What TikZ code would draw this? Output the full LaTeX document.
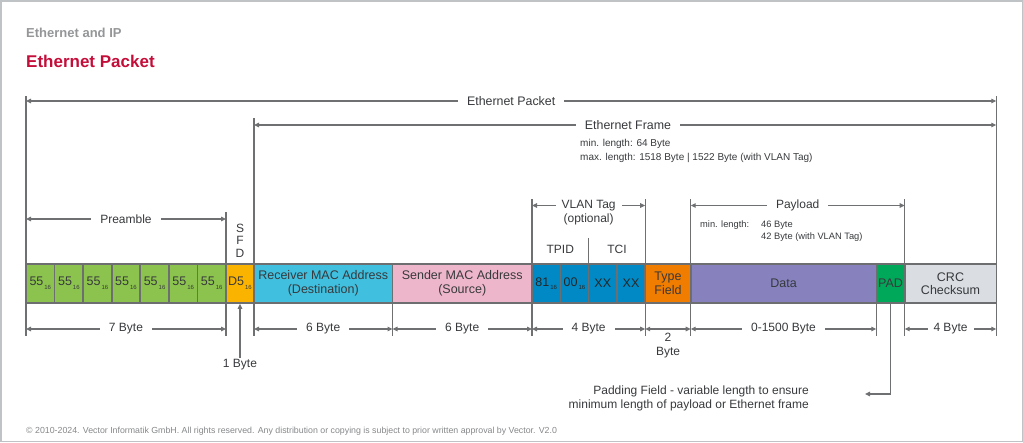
\documentclass[tikz,border=0pt]{standalone}
\usepackage{fontspec}
\setmainfont{Liberation Sans}
\usetikzlibrary{arrows.meta}
\definecolor{framec}{RGB}{192,195,197}
\definecolor{cellline}{RGB}{108,110,112}
\definecolor{mline}{RGB}{110,112,114}
\definecolor{txt}{RGB}{55,57,60}
\definecolor{titlegrey}{RGB}{148,150,152}
\definecolor{titlered}{RGB}{196,14,58}
\definecolor{cgreen}{RGB}{140,195,78}
\definecolor{csfd}{RGB}{250,180,0}
\definecolor{crecv}{RGB}{64,191,222}
\definecolor{csend}{RGB}{238,182,202}
\definecolor{cvlan}{RGB}{0,137,196}
\definecolor{ctype}{RGB}{240,124,0}
\definecolor{cdata}{RGB}{135,130,190}
\definecolor{cpad}{RGB}{0,168,90}
\definecolor{ccrc}{RGB}{218,221,225}
\newcommand\fsz[2]{\fontsize{#1}{#2}\selectfont}
\newcommand\hx[2]{#1\raisebox{-0.55ex}{\fsz{6}{7}\,#2}}
\tikzset{
  cell/.style={draw=cellline, line width=1.6pt, minimum height=39pt, inner sep=0pt,
    text=txt, font=\fsz{12.5}{13.5}, align=center},
  mline/.style={draw=mline, line width=1.2pt},
  marr/.style={mline, {Triangle[length=5pt,width=4.5pt]}-{Triangle[length=5pt,width=4.5pt]}},
  mlbl/.style={fill=white, inner xsep=9pt, inner ysep=1pt, text=txt, font=\fsz{12}{14}},
  plain/.style={inner sep=0pt, text=txt},
}
\begin{document}
\begin{tikzpicture}[x=1pt,y=-1pt]
\useasboundingbox (0,0) rectangle (1023,442);
\draw[framec, line width=1.5pt] (0.75,0.75) rectangle (1022.25,441.25);

% titles
\node[plain, anchor=west, text=titlegrey, font=\fsz{13}{15}\bfseries] (t1) at (26,33) {Ethernet and IP};
\node[plain, anchor=west, text=titlered, font=\fsz{17}{20}\bfseries] (t2) at (26,61) {Ethernet Packet};

% vertical guide lines
\coordinate (g1a) at (26,96);      \coordinate (g1b) at (26,336);
\coordinate (g2a) at (996.3,96);   \coordinate (g2b) at (996.3,336);
\coordinate (g3a) at (254,118);    \coordinate (g3b) at (254,336);
\coordinate (g4a) at (226,212);    \coordinate (g4b) at (226,336);
\coordinate (g5a) at (532,199);    \coordinate (g5b) at (532,336);
\coordinate (g6a) at (645.2,199);  \coordinate (g6b) at (645.2,336);
\coordinate (g7a) at (690.7,199);  \coordinate (g7b) at (690.7,336);
\coordinate (g8a) at (904.7,199);  \coordinate (g8b) at (904.7,336);
\coordinate (g9a) at (392.5,303);  \coordinate (g9b) at (392.5,336);
\coordinate (g10a) at (876.3,303); \coordinate (g10b) at (876.3,336);
\coordinate (g11a) at (588.6,238); \coordinate (g11b) at (588.6,264);
\foreach \i in {1,...,11} {\draw[mline] (g\i a) -- (g\i b);}

% cells
\node[cell, fill=cgreen, minimum width=28.57pt] (p1) at (40.29,283.5) {\hx{55}{16}};
\node[cell, fill=cgreen, minimum width=28.57pt] (p2) at (68.86,283.5) {\hx{55}{16}};
\node[cell, fill=cgreen, minimum width=28.57pt] (p3) at (97.43,283.5) {\hx{55}{16}};
\node[cell, fill=cgreen, minimum width=28.57pt] (p4) at (126.0,283.5) {\hx{55}{16}};
\node[cell, fill=cgreen, minimum width=28.57pt] (p5) at (154.57,283.5) {\hx{55}{16}};
\node[cell, fill=cgreen, minimum width=28.57pt] (p6) at (183.14,283.5) {\hx{55}{16}};
\node[cell, fill=cgreen, minimum width=28.57pt] (p7) at (211.71,283.5) {\hx{55}{16}};
\node[cell, fill=csfd, minimum width=28pt] (sfd) at (240,283.5) {\hx{D5}{16}};
\node[cell, fill=crecv, minimum width=138.5pt] (recv) at (323.25,283.5) {Receiver MAC Address\\(Destination)};
\node[cell, fill=csend, minimum width=139.5pt] (send) at (462.25,283.5) {Sender MAC Address\\(Source)};
\node[cell, fill=cvlan, minimum width=28.3pt, text=black!85] (v1) at (546.15,283.5) {\hx{81}{16}};
\node[cell, fill=cvlan, minimum width=28.3pt, text=black!85] (v2) at (574.45,283.5) {\hx{00}{16}};
\node[cell, fill=cvlan, minimum width=28.3pt, text=black!85] (v3) at (602.75,283.5) {XX};
\node[cell, fill=cvlan, minimum width=28.3pt, text=black!85] (v4) at (631.05,283.5) {XX};
\node[cell, fill=ctype, minimum width=45.5pt] (type) at (667.95,283.5) {Type\\Field};
\node[cell, fill=cdata, minimum width=185.6pt] (data) at (783.5,283.5) {Data};
\node[cell, fill=cpad, minimum width=28.4pt] (pad) at (890.5,283.5) {PAD};
\node[cell, fill=ccrc, minimum width=91.6pt] (crc) at (950.5,283.5) {CRC\\Checksum};

% top measurement arrows
\coordinate (pk1) at (26,101); \coordinate (pk2) at (996.3,101);
\draw[marr] (pk1) -- (pk2) node[mlbl, pos=0.5, font=\fsz{12.4}{14}] (pklbl) {Ethernet Packet};
\coordinate (fr1) at (254,125); \coordinate (fr2) at (996.3,125);
\draw[marr] (fr1) -- (fr2);
\node[mlbl, font=\fsz{12.4}{14}] (frlbl) at (628,125) {Ethernet Frame};
\node[plain, anchor=north west, align=left, font=\fsz{10}{14}] (frinfo) at (580,139) {min. length: 64 Byte\\max. length: 1518 Byte | 1522 Byte (with VLAN Tag)};

\coordinate (pr1) at (26,219); \coordinate (pr2) at (226,219);
\draw[marr] (pr1) -- (pr2) node[mlbl, pos=0.5] (prlbl) {Preamble};

\node[plain, font=\fsz{12}{14}] (s1) at (240,228) {S};
\node[plain, font=\fsz{12}{14}] (s2) at (240,240.5) {F};
\node[plain, font=\fsz{12}{14}] (s3) at (240,253) {D};

\coordinate (vl1) at (532,205.5); \coordinate (vl2) at (645.2,205.5);
\draw[marr] (vl1) -- (vl2) node[mlbl, pos=0.5, inner xsep=6pt] (vllbl) {VLAN Tag};
\node[plain, font=\fsz{12}{14}] (vlopt) at (588.6,219) {(optional)};
\node[plain, font=\fsz{12}{14}] (tpid) at (560.3,249) {TPID};
\node[plain, font=\fsz{12}{14}] (tci) at (617,249) {TCI};

\coordinate (pl1) at (690.7,205.5); \coordinate (pl2) at (904.7,205.5);
\draw[marr] (pl1) -- (pl2) node[mlbl, pos=0.5] (pllbl) {Payload};
\node[plain, anchor=west, font=\fsz{9.3}{11}] (plmin) at (700,225) {min. length:};
\node[plain, anchor=west, font=\fsz{9.3}{11}] (pl46) at (761,225) {46 Byte};
\node[plain, anchor=west, font=\fsz{9.3}{11}] (pl42) at (761,237.5) {42 Byte (with VLAN Tag)};

% bottom measurement arrows
\coordinate (b1a) at (26,329);    \coordinate (b1b) at (226,329);
\coordinate (b2a) at (254,329);   \coordinate (b2b) at (392.5,329);
\coordinate (b3a) at (392.5,329); \coordinate (b3b) at (532,329);
\coordinate (b4a) at (532,329);   \coordinate (b4b) at (645.2,329);
\coordinate (b5a) at (645.2,329); \coordinate (b5b) at (690.7,329);
\coordinate (b6a) at (690.7,329); \coordinate (b6b) at (876.3,329);
\coordinate (b7a) at (904.7,329); \coordinate (b7b) at (996.3,329);
\draw[marr] (b1a) -- (b1b) node[mlbl, pos=0.5] (l7b) {7 Byte};
\draw[marr] (b2a) -- (b2b) node[mlbl, pos=0.5] (l6b) {6 Byte};
\draw[marr] (b3a) -- (b3b) node[mlbl, pos=0.5] (l6c) {6 Byte};
\draw[marr] (b4a) -- (b4b) node[mlbl, pos=0.5] (l4b) {4 Byte};
\draw[marr] (b5a) -- (b5b);
\node[plain, font=\fsz{12}{14}, align=center] (l2b) at (668,346) {2\\Byte};
\draw[marr] (b6a) -- (b6b) node[mlbl, pos=0.5] (l1500) {0-1500 Byte};
\draw[marr] (b7a) -- (b7b) node[mlbl, pos=0.5, inner xsep=6pt] (l4c) {4 Byte};

% 1 Byte arrow
\node[plain, font=\fsz{12}{14}] (l1b) at (240,364.5) {1 Byte};
\draw[mline, -{Triangle[length=5pt,width=4.5pt]}] (l1b.north) ++(0,-1) -- (sfd.south);

% PAD arrow
\coordinate (padbend) at (890.5,394);
\coordinate (padend) at (865,394);
\draw[mline, -{Triangle[length=5pt,width=4.5pt]}] (pad.south) -- (padbend) -- (padend);
\node[plain, anchor=east, align=right, font=\fsz{12}{14}] (padtxt) at (809,398) {Padding Field - variable length to ensure\\minimum length of payload or Ethernet frame};

% copyright
\node[plain, anchor=west, text=titlegrey!90!black, font=\fsz{8.8}{10}] (copy) at (26,431) {\textcopyright\ 2010-2024. Vector Informatik GmbH. All rights reserved. Any distribution or copying is subject to prior written approval by Vector. V2.0};
\end{tikzpicture}
\end{document}
